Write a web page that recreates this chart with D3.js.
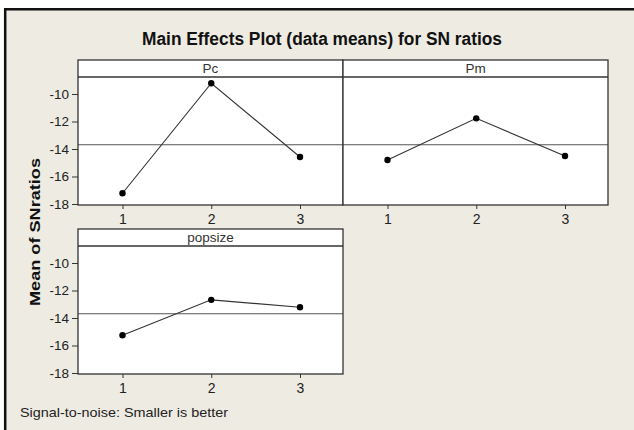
<!DOCTYPE html>
<html>
<head>
<meta charset="utf-8">
<script src="https://cdn.jsdelivr.net/npm/d3@7"></script>
<style>
  html, body { margin: 0; padding: 0; background: #ffffff; }
  svg { display: block; }
  text { font-family: "Liberation Sans", Arial, sans-serif; }
</style>
</head>
<body>
<svg id="chart" width="634" height="430"></svg>
<script>
// ---- data ----
const categories = [1, 2, 3];
const factors = ["Pc", "Pm", "popsize"];
const pcValues = [-17.22, -9.22, -14.58];
const pmValues = [-14.80, -11.77, -14.51];
const popsizeValues = [-15.25, -12.68, -13.22];
const grandMean = -13.69;
const yTicks = [-10, -12, -14, -16, -18];
const titleText = "Main Effects Plot (data means) for SN ratios";
const yLabelText = "Mean of SNratios";
const footerText = "Signal-to-noise: Smaller is better";

const seriesByFactor = { "Pc": pcValues, "Pm": pmValues, "popsize": popsizeValues };

// ---- layout ----
const W = 634, H = 430;
const panelW = 265, panelH = 145, stripH = 17;
const panelPos = [
  { f: "Pc", x: 78, y: 60, yAxis: true },
  { f: "Pm", x: 343, y: 60, yAxis: false },
  { f: "popsize", x: 78, y: 229, yAxis: true }
];
const FONT = "'Liberation Sans', Arial, sans-serif";

const svg = d3.select("#chart");

// background frame
svg.append("rect").attr("x", 0).attr("y", 0).attr("width", W).attr("height", H).attr("fill", "#ffffff");
svg.append("rect").attr("x", 4).attr("y", 8).attr("width", W - 4).attr("height", H - 8).attr("fill", "#EEEBE2");
svg.append("line").attr("x1", 4).attr("x2", W).attr("y1", 9.2).attr("y2", 9.2).attr("stroke", "#111").attr("stroke-width", 2.5);
svg.append("line").attr("x1", 5.2).attr("x2", 5.2).attr("y1", 8).attr("y2", H).attr("stroke", "#111").attr("stroke-width", 2.5);

// title
svg.append("text")
  .attr("x", 322).attr("y", 45)
  .attr("text-anchor", "middle")
  .attr("font-size", 17.5).attr("font-weight", "bold").attr("fill", "#111")
  .attr("textLength", 360).attr("lengthAdjust", "spacingAndGlyphs")
  .text(titleText);

// y-axis label
svg.append("text")
  .attr("transform", "translate(40,232) rotate(-90)")
  .attr("text-anchor", "middle")
  .attr("font-size", 14.5).attr("font-weight", "bold").attr("fill", "#111")
  .attr("textLength", 148).attr("lengthAdjust", "spacingAndGlyphs")
  .text(yLabelText);

// footer
svg.append("text")
  .attr("x", 20).attr("y", 417)
  .attr("font-size", 13.5).attr("fill", "#222")
  .attr("textLength", 208).attr("lengthAdjust", "spacingAndGlyphs")
  .text(footerText);

// scales (panel-local)
const y = d3.scaleLinear().domain([-18, -10]).range([144, 34]);
const x = d3.scalePoint().domain(categories).range([44.5, 222]);

panelPos.forEach(p => {
  const g = svg.append("g").attr("transform", `translate(${p.x},${p.y})`);
  const vals = seriesByFactor[p.f];

  // plot area
  g.append("rect").attr("x", 0).attr("y", 0).attr("width", panelW).attr("height", panelH)
    .attr("fill", "#ffffff");

  // grand mean reference line
  g.append("line")
    .attr("x1", 0).attr("x2", panelW)
    .attr("y1", y(grandMean)).attr("y2", y(grandMean))
    .attr("stroke", "#555").attr("stroke-width", 1.2);

  // series line
  const data = categories.map((c, i) => ({ c, v: vals[i] }));
  g.append("path").datum(data)
    .attr("fill", "none").attr("stroke", "#333").attr("stroke-width", 1.1)
    .attr("d", d3.line().x(d => x(d.c)).y(d => y(d.v)));
  g.selectAll("circle.pt").data(data).join("circle")
    .attr("class", "pt")
    .attr("cx", d => x(d.c)).attr("cy", d => y(d.v)).attr("r", 3.2)
    .attr("fill", "#000");

  // strip
  g.append("line").attr("x1", 0).attr("x2", panelW).attr("y1", stripH).attr("y2", stripH)
    .attr("stroke", "#333").attr("stroke-width", 1.3);
  g.append("text").attr("x", panelW / 2).attr("y", 13)
    .attr("text-anchor", "middle").attr("font-size", 13.5).attr("fill", "#333")
    .text(p.f);

  // border
  g.append("rect").attr("x", 0).attr("y", 0).attr("width", panelW).attr("height", panelH)
    .attr("fill", "none").attr("stroke", "#333").attr("stroke-width", 1.3);

  // x axis
  const xa = g.append("g").attr("transform", `translate(0,${panelH})`)
    .call(d3.axisBottom(x).tickSize(4).tickPadding(5).tickFormat(d => String(d)));
  xa.attr("font-size", null).attr("font-family", null);
  xa.select(".domain").remove();
  xa.selectAll("line").attr("stroke", "#333");
  xa.selectAll("text").attr("font-size", 14).attr("fill", "#222")
    .style("font-family", FONT);

  // y axis
  if (p.yAxis) {
    const ya = g.append("g")
      .call(d3.axisLeft(y).tickValues(yTicks).tickSize(6).tickPadding(3).tickFormat(d => String(d)));
    ya.attr("font-size", null).attr("font-family", null);
    ya.select(".domain").remove();
    ya.selectAll("line").attr("stroke", "#333");
    ya.selectAll("text").attr("font-size", 13.5).attr("fill", "#222")
      .style("font-family", FONT);
  }
});
</script>
</body>
</html>
